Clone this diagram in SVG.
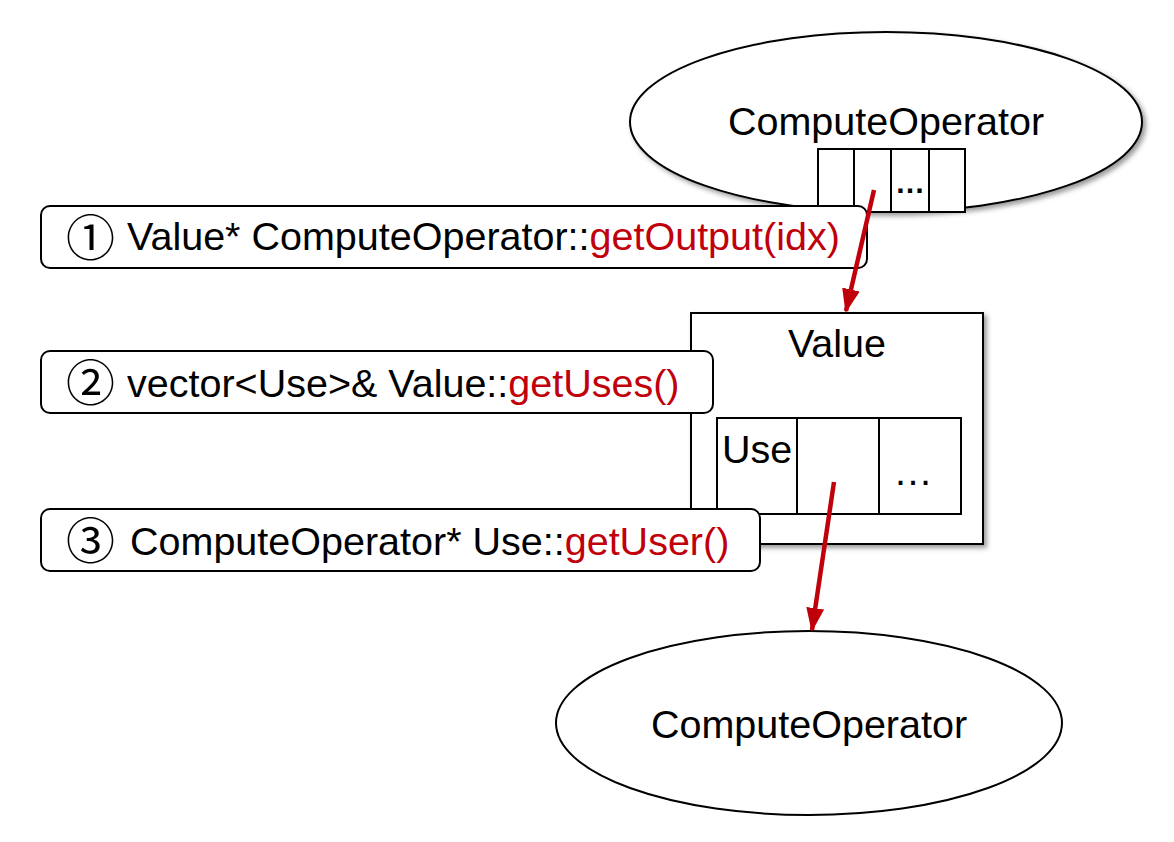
<svg xmlns="http://www.w3.org/2000/svg" width="1174" height="842" viewBox="0 0 1174 842">
<defs>
<filter id="sh" x="-10%" y="-10%" width="130%" height="130%">
<feDropShadow dx="3" dy="3" stdDeviation="2.5" flood-color="#000" flood-opacity="0.4"/>
</filter>
<marker id="ah" markerUnits="userSpaceOnUse" markerWidth="24" markerHeight="20" viewBox="0 0 24 20" refX="22" refY="10" orient="auto">
<path d="M0,1 L24,10 L0,19 Z" fill="#C0000B"/>
</marker>
</defs>
<style>
text{font-family:"Liberation Sans",Arial,Helvetica,sans-serif;font-size:39.5px;fill:#000}
.red{fill:#C0000B}
.num{font-family:"Noto Sans CJK SC","DejaVu Sans",sans-serif;font-size:49px}
.shape{fill:#fff;stroke:#000;stroke-width:2}
.lbl{fill:#fff;stroke:#000;stroke-width:2}
.conn{stroke:#C0000B;stroke-width:4.5;fill:none}
</style>
<rect width="1174" height="842" fill="#fff"/>
<g id="op1">
<ellipse class="shape" cx="886" cy="122" rx="256" ry="90" filter="url(#sh)"/>
<text x="886" y="135" text-anchor="middle">ComputeOperator</text>
<rect class="shape" x="818" y="149" width="147" height="63"/>
<line x1="854" y1="149" x2="854" y2="212" stroke="#000" stroke-width="2"/>
<line x1="891" y1="149" x2="891" y2="212" stroke="#000" stroke-width="2"/>
<line x1="929" y1="149" x2="929" y2="212" stroke="#000" stroke-width="2"/>
<text x="910" y="193" text-anchor="middle" style="font-size:30px;font-weight:bold">…</text>
</g>
<g id="value">
<rect class="shape" x="691" y="313" width="292" height="231" filter="url(#sh)"/>
<text x="837" y="357" text-anchor="middle">Value</text>
<rect class="shape" x="717" y="418" width="244" height="96"/>
<line x1="797" y1="418" x2="797" y2="514" stroke="#000" stroke-width="2"/>
<line x1="879" y1="418" x2="879" y2="514" stroke="#000" stroke-width="2"/>
<text x="722" y="463">Use</text>
<text x="913" y="485" text-anchor="middle">…</text>
</g>
<g id="label1">
<rect class="lbl" x="41" y="206" width="826" height="62" rx="9"/>
<text x="66" y="256" class="num">①</text>
<text x="127" y="250">Value* ComputeOperator::<tspan class="red">getOutput(idx)</tspan></text>
</g>
<g id="label2">
<rect class="lbl" x="41" y="351" width="672" height="62" rx="9"/>
<text x="66" y="401" class="num">②</text>
<text x="127" y="397">vector&lt;Use&gt;&amp; Value::<tspan class="red">getUses()</tspan></text>
</g>
<g id="label3">
<rect class="lbl" x="41" y="509" width="719" height="62" rx="9"/>
<text x="66" y="559" class="num">③</text>
<text x="130" y="555">ComputeOperator* Use::<tspan class="red">getUser()</tspan></text>
</g>
<g id="op2">
<ellipse class="shape" cx="809" cy="723" rx="253" ry="92"/>
<text x="809" y="738" text-anchor="middle">ComputeOperator</text>
</g>
<g id="connectors">
<line class="conn" x1="874" y1="190" x2="846" y2="311" marker-end="url(#ah)"/>
<line class="conn" x1="834" y1="482" x2="812" y2="630" marker-end="url(#ah)"/>
</g>
</svg>
